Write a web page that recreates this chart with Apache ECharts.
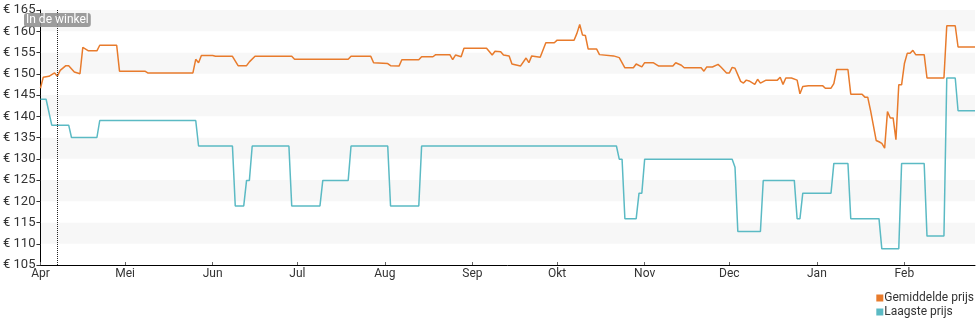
<!DOCTYPE html>
<html>
<head>
<meta charset="utf-8">
<script src="https://cdn.jsdelivr.net/npm/echarts@6/dist/echarts.min.js"></script>
<style>
  html, body { margin: 0; padding: 0; background: #fff; }
  #chart { width: 980px; height: 325px; }
</style>
</head>
<body>
<div id="chart"></div>
<script>
// Days are counted from 1 April; month starts mark the x-axis ticks.
const monthLabels = ['Apr', 'Mei', 'Jun', 'Jul', 'Aug', 'Sep', 'Okt', 'Nov', 'Dec', 'Jan', 'Feb'];
const monthStartDays = [0, 30, 61, 91, 122, 153, 183, 214, 244, 275, 306];
const lastDay = 331;

// Day the product became available in the shop
const storeDay = 6;

// Average price (Gemiddelde prijs)
const avgDays = [0, 1, 3, 4, 5, 6, 7, 9, 10, 12, 14, 15, 17, 20, 21, 27, 28, 37, 38, 54,
  55, 56, 57, 61, 62, 68, 70, 73, 74, 76, 89, 90, 109, 110, 117, 118, 123, 124, 127, 128,
  134, 135, 139, 140, 145, 146, 147, 149, 150, 158, 160, 161, 163, 164, 166, 167, 170, 172, 173, 174,
  177, 179, 182, 183, 189, 190, 191, 192, 193, 194, 197, 198, 203, 205, 207, 210, 211, 213, 214, 217,
  219, 224, 225, 227, 228, 234, 235, 236, 238, 240, 241, 243, 244, 245, 246, 248, 249, 250, 251, 253,
  254, 255, 257, 261, 262, 263, 264, 266, 268, 269, 270, 272, 277, 278, 280, 281, 282, 286, 287, 291,
  292, 293, 294, 296, 297, 298, 299, 300, 301, 302, 303, 304, 305, 306, 307, 308, 309, 310, 313, 314,
  320, 321, 324, 325, 331];
const avgPrices = [146.6, 149.2, 149.4, 149.8, 150.2, 149.4, 150.8, 151.9, 151.9, 150.4, 150.0, 156.2, 155.4, 155.4, 156.7, 156.7, 150.6, 150.6, 150.2, 150.2,
  153.4, 152.6, 154.3, 154.3, 154.1, 154.1, 151.9, 151.9, 152.8, 154.1, 154.1, 153.4, 153.4, 154.1, 154.1, 152.6, 152.4, 151.9, 151.8, 153.3,
  153.3, 154.0, 154.0, 154.5, 154.5, 153.3, 154.4, 154.0, 156.0, 156.0, 154.4, 155.3, 155.2, 154.4, 154.2, 152.3, 151.8, 153.7, 152.6, 154.2,
  153.9, 157.3, 157.3, 157.9, 157.9, 159.5, 161.6, 159.1, 159.0, 155.8, 155.8, 154.5, 154.2, 153.8, 151.4, 151.4, 152.3, 151.6, 152.6, 152.6,
  151.8, 151.8, 152.6, 152.0, 151.4, 151.4, 150.6, 151.6, 151.6, 152.2, 151.6, 150.2, 150.2, 151.5, 151.3, 148.2, 147.8, 148.5, 148.3, 147.5,
  148.7, 147.8, 148.5, 148.5, 149.2, 147.5, 149.0, 149.0, 148.5, 145.3, 147.0, 147.2, 147.2, 146.6, 146.6, 147.7, 151.0, 151.0, 145.2, 145.2,
  144.5, 144.5, 141.4, 134.3, 134.0, 133.6, 132.5, 141.1, 139.6, 139.6, 134.5, 147.4, 147.4, 152.4, 154.8, 154.8, 155.5, 154.5, 154.5, 149.0,
  149.0, 161.3, 161.3, 156.3, 156.3];

// Lowest price (Laagste prijs)
const lowDays = [0, 2, 4, 10, 11, 20, 21, 55, 56, 68, 69, 72, 73, 74, 75, 88, 89, 99, 100, 109,
  110, 123, 124, 134, 135, 204, 205, 206, 207, 211, 212, 213, 214, 245, 246, 247, 255, 256, 267, 268,
  269, 270, 280, 281, 286, 287, 297, 298, 304, 305, 313, 314, 320, 321, 324, 325, 331];
const lowPrices = [144.0, 144.0, 137.9, 137.9, 135.0, 135.0, 139.0, 139.0, 133.0, 133.0, 118.9, 118.9, 124.9, 124.9, 133.0, 133.0, 118.9, 118.9, 124.9, 124.9,
  133.0, 133.0, 118.9, 118.9, 133.0, 133.0, 129.9, 129.9, 115.9, 115.9, 121.9, 121.9, 129.9, 129.9, 128.0, 112.9, 112.9, 124.9, 124.9, 115.9,
  115.9, 121.9, 121.9, 128.9, 128.9, 115.9, 115.9, 108.8, 108.8, 128.9, 128.9, 111.8, 111.8, 149.0, 149.0, 141.3, 141.3];

const zip = (xs, ys) => xs.map((x, i) => [x, ys[i]]);

const FONT = 'Roboto';
const chart = echarts.init(document.getElementById('chart'), null, { renderer: 'canvas' });

chart.setOption({
  animation: false,
  backgroundColor: '#fff',
  textStyle: { fontFamily: FONT },
  grid: { left: 40, right: 5, top: 10, bottom: 60, containLabel: false },
  legend: {
    orient: 'vertical',
    right: 6,
    bottom: 7,
    padding: 0,
    itemWidth: 7,
    itemHeight: 7,
    itemGap: 2,
    icon: 'rect',
    textStyle: { fontFamily: FONT, fontSize: 12, color: '#333', padding: [0, 0, 0, -4] },
    data: ['Gemiddelde prijs', 'Laagste prijs']
  },
  xAxis: {
    type: 'value',
    min: 0,
    max: lastDay,
    axisLine: { show: true, lineStyle: { color: '#000', width: 1 } },
    axisTick: { show: true, inside: true, length: 3, lineStyle: { color: '#666' }, customValues: monthStartDays },
    axisLabel: {
      customValues: monthStartDays,
      formatter: v => monthLabels[monthStartDays.indexOf(v)] || '',
      color: '#333',
      fontSize: 12,
      fontFamily: FONT,
      margin: 3
    },
    splitLine: { show: false }
  },
  yAxis: {
    type: 'value',
    min: 105,
    max: 165,
    interval: 5,
    axisLine: { show: true, lineStyle: { color: '#000', width: 1 } },
    axisTick: { show: true, length: 4, lineStyle: { color: '#333' } },
    axisLabel: {
      formatter: '€ {value}',
      color: '#333',
      fontSize: 13,
      fontFamily: FONT,
      margin: 5
    },
    splitLine: { show: false },
    splitArea: { show: true, areaStyle: { color: ['#ffffff', '#f7f7f7'] } }
  },
  series: [
    {
      name: 'Gemiddelde prijs',
      type: 'line',
      data: zip(avgDays, avgPrices),
      showSymbol: false,
      symbol: 'none',
      color: '#e87b2c',
      lineStyle: { width: 1.5, color: '#e87b2c' },
      z: 3,
      markLine: {
        silent: true,
        symbol: 'none',
        animation: false,
        lineStyle: { type: 'dotted', color: '#222', width: 1 },
        label: {
          show: true,
          position: 'end',
          distance: -17,
          formatter: 'In de winkel',
          color: '#fff',
          fontSize: 12,
          fontFamily: FONT,
          backgroundColor: 'rgba(140,140,140,0.85)',
          padding: [1, 2, 1, 2],
          borderRadius: 3
        },
        data: [{ xAxis: storeDay }]
      }
    },
    {
      name: 'Laagste prijs',
      type: 'line',
      data: zip(lowDays, lowPrices),
      showSymbol: false,
      symbol: 'none',
      color: '#5bbac4',
      lineStyle: { width: 1.5, color: '#5bbac4' },
      z: 2
    }
  ]
});
</script>
</body>
</html>
